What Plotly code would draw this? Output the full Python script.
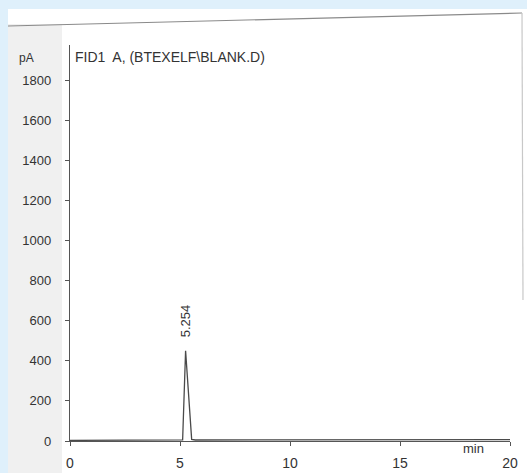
import plotly.graph_objects as go

# ---- data ----
time_min = [0.0, 2.0, 5.0, 5.12, 5.254, 5.53, 5.7, 10.0, 15.0, 20.0]
signal_pA = [3, 3, 4, 6, 450, 8, 5, 5, 6, 7]
peak_rt = [5.254]
peak_height = [450]
peak_labels = ["5.254"]
x_ticks = [0, 5, 10, 15, 20]
y_ticks = [0, 200, 400, 600, 800, 1000, 1200, 1400, 1600, 1800]
title_text = "FID1  A, (BTEXELF\\BLANK.D)"

W, H = 527, 473
L, R, T, B = 70, 17, 45, 32
PW, PH = W - L - R, H - T - B


def px(x):
    return (x - L) / PW


def py(y):
    return (H - B - y) / PH


ink = "#333333"
font = "Liberation Sans, Arial, sans-serif"
bg_blue = "#dff0fb"

fig = go.Figure()
fig.add_trace(go.Scatter(
    x=time_min, y=signal_pA, mode="lines",
    line=dict(color="#4a4a4a", width=1.3),
    hoverinfo="skip", showlegend=False,
))

annotations = [
    dict(x=peak_rt[0], y=peak_height[0] + 150, xref="x", yref="y",
         text=peak_labels[0], textangle=-90, showarrow=False,
         font=dict(size=13, color=ink, family=font)),
    dict(x=px(73), y=py(57), xref="paper", yref="paper", xanchor="left",
         yanchor="middle", text=title_text, showarrow=False,
         font=dict(size=14, color=ink, family=font)),
    dict(x=px(26), y=py(58), xref="paper", yref="paper", xanchor="center",
         yanchor="middle", text="pA", showarrow=False,
         font=dict(size=12, color=ink, family=font)),
    dict(x=px(473), y=py(449), xref="paper", yref="paper", xanchor="center",
         yanchor="middle", text="min", showarrow=False,
         font=dict(size=13, color=ink, family=font)),
]

shapes = [
    # light scanned-paper shading on the left strip
    dict(type="rect", xref="paper", yref="paper", layer="below",
         x0=px(8), x1=px(62), y0=py(473), y1=py(24),
         fillcolor="#f0f0f0", line=dict(width=0)),
    # white paper area
    dict(type="rect", xref="paper", yref="paper", layer="below",
         x0=px(62), x1=px(527), y0=py(473), y1=py(9),
         fillcolor="white", line=dict(width=0)),
    dict(type="rect", xref="paper", yref="paper", layer="below",
         x0=px(8), x1=px(62), y0=py(24), y1=py(9),
         fillcolor="white", line=dict(width=0)),
    # paper frame line top and right
    dict(type="line", xref="paper", yref="paper",
         x0=px(8), x1=px(522), y0=py(26), y1=py(13),
         line=dict(color="#8a8a8a", width=1.2)),
    dict(type="line", xref="paper", yref="paper",
         x0=px(522), x1=px(523), y0=py(13), y1=py(300),
         line=dict(color="#c8c8c8", width=1.2)),
]

fig.update_layout(
    width=W, height=H, autosize=False,
    margin=dict(l=L, r=R, t=T, b=B, autoexpand=False),
    paper_bgcolor=bg_blue,
    plot_bgcolor="rgba(0,0,0,0)",
    showlegend=False,
    annotations=annotations,
    shapes=shapes,
    xaxis=dict(
        range=[0, 20], tickvals=x_ticks, ticktext=[str(v) for v in x_ticks],
        showgrid=False, zeroline=False, showline=True, linecolor="#555",
        linewidth=1.3, ticks="outside", ticklen=4, tickcolor="#555",
        ticklabelstandoff=5, automargin=False,
        tickfont=dict(size=14, color=ink, family=font),
    ),
    yaxis=dict(
        range=[0, 1975], tickvals=y_ticks, ticktext=[str(v) for v in y_ticks],
        showgrid=False, zeroline=False, showline=True, linecolor="#555",
        linewidth=1.3, ticks="outside", ticklen=4, tickcolor="#555",
        ticklabelstandoff=11, automargin=False,
        tickfont=dict(size=13, color=ink, family=font),
    ),
)

fig.write_html(
    "out.html",
    config={"displayModeBar": False},
    post_script="document.body.style.margin='0';"
                "document.body.style.padding='0';"
                "document.body.style.overflow='hidden';"
                "document.body.style.background='" + bg_blue + "';",
)
